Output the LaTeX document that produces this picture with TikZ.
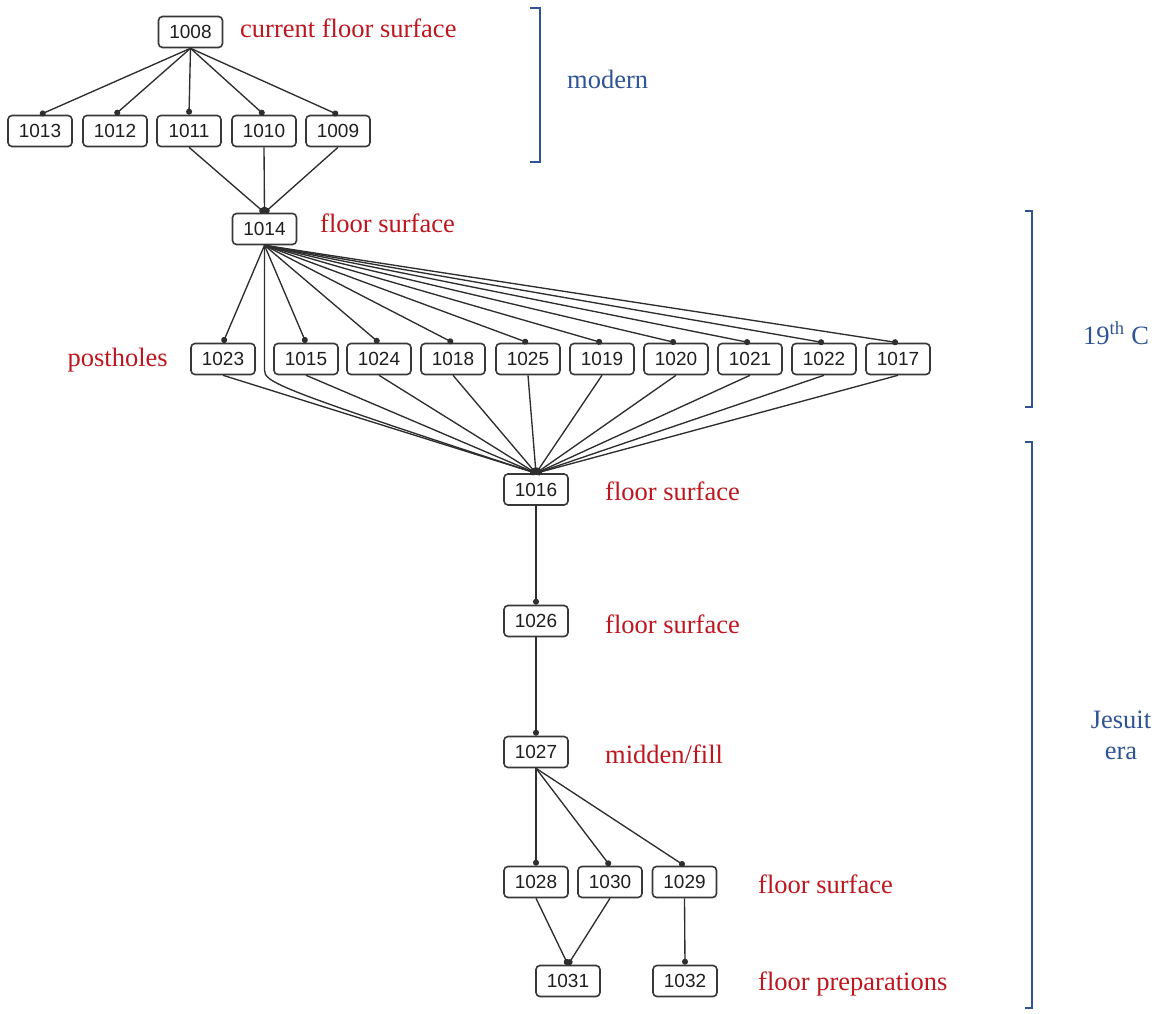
\documentclass[tikz,border=0pt]{standalone}
\usepackage{fontspec}
\setmainfont{Liberation Serif}
\newfontfamily\nodefont{Liberation Sans}
\usetikzlibrary{arrows.meta}
\definecolor{lblred}{RGB}{190,22,30}
\definecolor{lblblue}{RGB}{47,84,150}
\begin{document}
\begin{tikzpicture}[x=1pt,y=-1pt,
  unit/.style={draw=black!78, line width=1.6pt, rounded corners=4pt, fill=white,
    minimum width=64pt, minimum height=31pt, inner sep=0pt,
    font=\nodefont\fontsize{19}{20}\selectfont, text=black!88},
  link/.style={line width=1.35pt, draw=black!82, -{Circle[length=6pt]}},
  redlbl/.style={anchor=base west, inner sep=0pt, text=lblred, font=\fontsize{26.5}{30}\selectfont},
  bluelbl/.style={inner sep=0pt, text=lblblue, font=\fontsize{26.5}{31}\selectfont},
  bracketline/.style={draw=lblblue, line width=2.4pt}
]
\useasboundingbox (0,0) rectangle (1157,1014);
% nodes
\node[unit] (n1008) at (190.5,32) {1008};
\node[unit] (n1013) at (40,131) {1013};
\node[unit] (n1012) at (115,131) {1012};
\node[unit] (n1011) at (189,131) {1011};
\node[unit] (n1010) at (264,131) {1010};
\node[unit] (n1009) at (338,131) {1009};
\node[unit] (n1014) at (264.5,229) {1014};
\node[unit] (n1023) at (223,359) {1023};
\node[unit] (n1015) at (306,359) {1015};
\node[unit] (n1024) at (379,359) {1024};
\node[unit] (n1018) at (453,359) {1018};
\node[unit] (n1025) at (528,359) {1025};
\node[unit] (n1019) at (602,359) {1019};
\node[unit] (n1020) at (676,359) {1020};
\node[unit] (n1021) at (750,359) {1021};
\node[unit] (n1022) at (824,359) {1022};
\node[unit] (n1017) at (898,359) {1017};
\node[unit] (n1016) at (536,489.5) {1016};
\node[unit] (n1026) at (536,621) {1026};
\node[unit] (n1027) at (536,752) {1027};
\node[unit] (n1028) at (536,882) {1028};
\node[unit] (n1030) at (610,882) {1030};
\node[unit] (n1029) at (684.5,882) {1029};
\node[unit] (n1031) at (568,981) {1031};
\node[unit] (n1032) at (685,981) {1032};
% edges
\foreach \t in {1013,1012,1011,1010,1009}
  \draw[link] (n1008.south) -- (n\t.north);
\foreach \s in {1011,1010,1009}
  \draw[link] (n\s.south) -- (n1014.north);
\foreach \t in {1023,1015,1024,1018,1025,1019,1020,1021,1022,1017}
  \draw[link] (n1014.south) -- (n\t.north);
\foreach \s in {1023,1015,1024,1018,1025,1019,1020,1021,1022,1017}
  \draw[link] (n\s.south) -- (n1016.north);
\coordinate (bend) at (264.5,370);
\draw[link] (n1014.south) -- (bend) .. controls (264.5,382) and (275,388) .. (n1016.north);
\draw[link] (n1016.south) -- (n1026.north);
\draw[link] (n1026.south) -- (n1027.north);
\draw[link] (n1027.south) -- (n1028.north);
\draw[link] (n1027.south) -- (n1030.north);
\draw[link] (n1027.south) -- (n1029.north);
\draw[link] (n1028.south) -- (n1031.north);
\draw[link] (n1030.south) -- (n1031.north);
\draw[link] (n1029.south) -- (n1032.north);
% red labels
\node[redlbl] (l1) at (240,38) {current floor surface};
\node[redlbl] (l2) at (320,233) {floor surface};
\node[redlbl, anchor=base east] (l3) at (168,366) {postholes};
\node[redlbl] (l4) at (605,500) {floor surface};
\node[redlbl] (l5) at (605,633) {floor surface};
\node[redlbl] (l6) at (605,763) {midden/fill};
\node[redlbl] (l7) at (758,893) {floor surface};
\node[redlbl] (l8) at (758,990) {floor preparations};
% brackets
\coordinate (b1a) at (530,8);
\coordinate (b1b) at (540,8);
\coordinate (b1c) at (540,162);
\coordinate (b1d) at (530,162);
\draw[bracketline] (b1a) -- (b1b) -- (b1c) -- (b1d);
\coordinate (b2a) at (1025,211);
\coordinate (b2b) at (1032,211);
\coordinate (b2c) at (1032,407);
\coordinate (b2d) at (1025,407);
\draw[bracketline] (b2a) -- (b2b) -- (b2c) -- (b2d);
\coordinate (b3a) at (1025,442);
\coordinate (b3b) at (1032,442);
\coordinate (b3c) at (1032,1008);
\coordinate (b3d) at (1025,1008);
\draw[bracketline] (b3a) -- (b3b) -- (b3c) -- (b3d);
% blue labels
\node[bluelbl, anchor=base west] (m1) at (567,89) {modern};
\node[bluelbl, anchor=base west] (m2) at (1083,344) {19\textsuperscript{th} C};
\node[bluelbl, align=center] (m3) at (1121,735) {Jesuit\\era};
\end{tikzpicture}
\end{document}
